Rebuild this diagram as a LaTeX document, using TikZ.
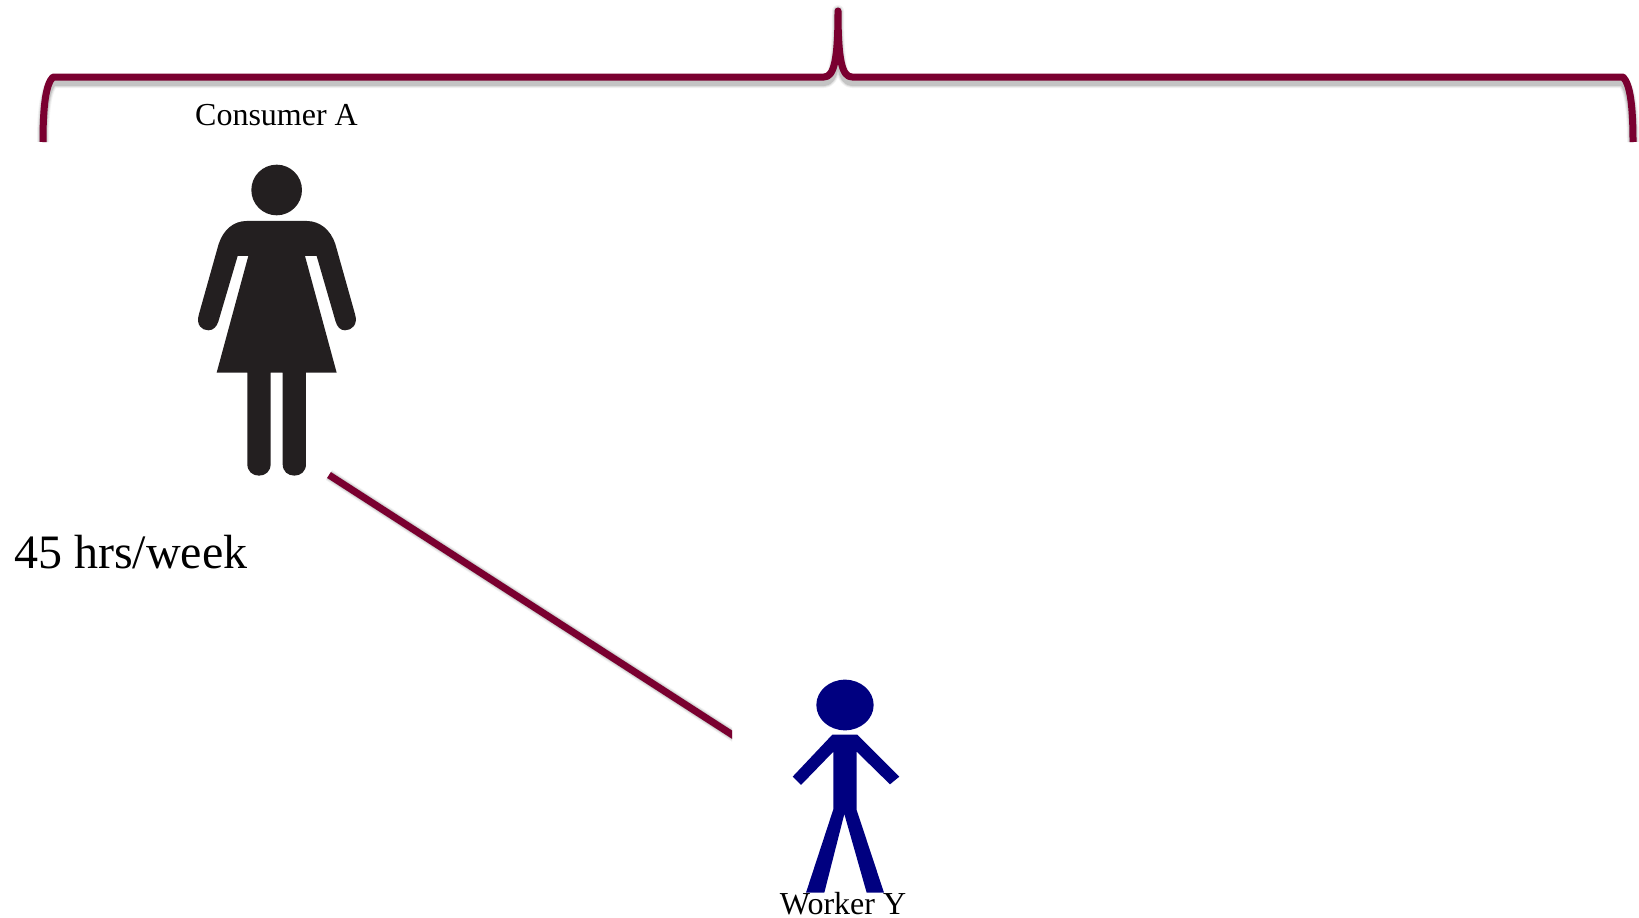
\documentclass[tikz,border=0pt]{standalone}
\usepackage{fontspec}
\setmainfont{Liberation Serif}
\definecolor{brace}{HTML}{7A0030}
\definecolor{womanc}{HTML}{231F20}
\definecolor{workerc}{HTML}{000080}
\tikzset{
  bracepath/.style={draw=brace,line width=7pt,line join=round},
  shadowline/.style={draw=black,line join=round},
  label/.style={inner sep=0pt,anchor=base,text=black},
}
\begin{document}
\begin{tikzpicture}[x=1pt,y=-1pt]
\useasboundingbox (0,0) rectangle (1639,918);
% named anchors
\coordinate (lineA) at (329,475);
\coordinate (lineB) at (745,743);
\coordinate (bl) at (43,142);
\coordinate (bt) at (838,11);
\coordinate (br) at (1633,142);
\def\bracecurve{(bl) .. controls (43,105) and (46,84) .. (53,77) -- (824,77) .. controls (834,77) and (838,60) .. (bt) .. controls (838,60) and (842,77) .. (852,77) -- (1623,77) .. controls (1630,84) and (1633,105) .. (br)}
% brace shadow
\foreach \w/\o in {12/.05,10/.08,8/.12}{
  \draw[shadowline,line width=\w pt,opacity=\o,yshift=-5pt] \bracecurve;
}
\draw[bracepath] \bracecurve;
% connector, cut off vertically
\begin{scope}
\clip (300,440) rectangle (732,760);
\foreach \w/\o in {12/.05,10/.08,8/.12}{
  \draw[shadowline,line width=\w pt,opacity=\o,yshift=-5pt] (lineA) -- (lineB);
}
\draw[bracepath] (lineA) -- (lineB);
\end{scope}
% Consumer A figure
\begin{scope}[shift={(170,90)},x=0.3333pt,y=-0.3333pt]
\fill[womanc] (320,300) circle [radius=76];
\fill[womanc] (230,393) -- (410,393) .. controls (450,393) and (482,420) .. (496,462)
  -- (555,672) .. controls (565,705) and (545,721) .. (525,721) .. controls (510,721) and (502,710) .. (497,695)
  -- (440,498) -- (405,498) -- (500,848) -- (408,848) -- (408,1122)
  .. controls (408,1145) and (392,1157) .. (373,1157) .. controls (354,1157) and (338,1145) .. (338,1122)
  -- (338,848) -- (302,848) -- (302,1122)
  .. controls (302,1145) and (286,1157) .. (267,1157) .. controls (248,1157) and (232,1145) .. (232,1122)
  -- (232,848) -- (140,848) -- (235,498) -- (203,498) -- (145,695)
  .. controls (140,710) and (130,721) .. (115,721) .. controls (95,721) and (77,705) .. (87,672)
  -- (146,462) .. controls (160,420) and (190,393) .. (230,393) -- cycle;
\end{scope}
% Worker Y figure
\begin{scope}[shift={(720,660)},x=0.3333pt,y=-0.3333pt]
\fill[workerc] (375,135) ellipse [x radius=86,y radius=76];
\fill[workerc] (337,224) -- (412,224) -- (538,350) -- (510,373) -- (410,275) -- (410,450)
  -- (492,698) -- (440,698) -- (373,462) -- (313,698) -- (258,698) -- (340,448)
  -- (340,275) -- (243,375) -- (218,350) -- cycle;
\end{scope}
% labels
\node[label,font=\fontsize{32}{38}\selectfont] (consumer) at (276.5,125) {Consumer A};
\node[label,font=\fontsize{48}{56}\selectfont,anchor=base west] (hours) at (14,568) {45 hrs/week};
\node[label,font=\fontsize{32}{38}\selectfont] (worker) at (843,914.5) {Worker Y};
\end{tikzpicture}
\end{document}
